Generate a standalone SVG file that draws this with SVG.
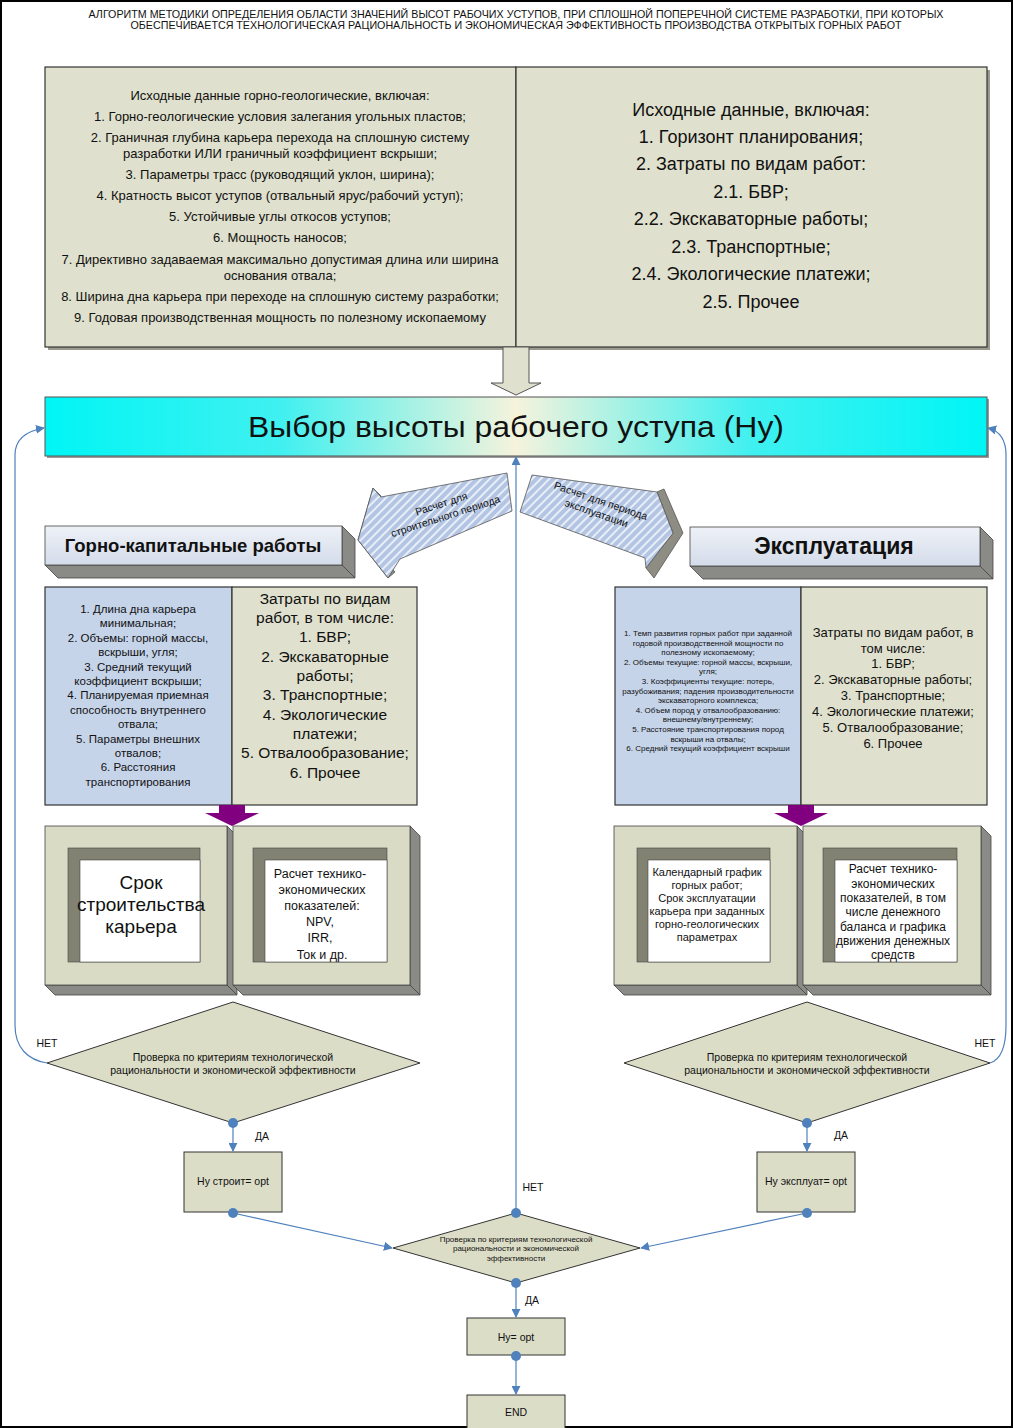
<svg xmlns="http://www.w3.org/2000/svg" width="1013" height="1428" viewBox="0 0 1013 1428">
<style>
text{font-family:"Liberation Sans",Arial,sans-serif;fill:#111;text-anchor:middle}
.box{fill:#dfe0cd;stroke:#333;stroke-width:1.2}
.sm{fill:#dcddc7;stroke:#333;stroke-width:1}
.blue{fill:#c6d4ea;stroke:#333;stroke-width:1.2}
.side{fill:#8a8a86;stroke:#444;stroke-width:0.8}
.frame{fill:#d9dbc5;stroke:#444;stroke-width:0.8}
.band{fill:#828273;stroke:#444;stroke-width:0.6}
.win{fill:#fff;stroke:#444;stroke-width:0.6}
.con{fill:none;stroke:#4f81bd;stroke-width:1.2}
.dot{fill:#4f81bd}
.t10{font-size:10.5px}
</style>
<defs>
<linearGradient id="bar" x1="0" y1="0" x2="1" y2="0">
<stop offset="0" stop-color="#00f5f5"/><stop offset="0.25" stop-color="#40f0f0"/><stop offset="0.5" stop-color="#f6f3dc"/><stop offset="0.75" stop-color="#40f0f0"/><stop offset="1" stop-color="#00f5f5"/>
</linearGradient>
<linearGradient id="hdr" x1="0" y1="0" x2="0" y2="1">
<stop offset="0" stop-color="#eef1f7"/><stop offset="1" stop-color="#d4dcea"/>
</linearGradient>
<pattern id="hatch" patternUnits="userSpaceOnUse" width="6" height="6" patternTransform="rotate(45)">
<rect width="6" height="6" fill="#b3c5e3"/><rect width="2" height="6" fill="#e8eef8"/>
</pattern>
<marker id="ah" viewBox="0 0 10 10" refX="9" refY="5" markerWidth="9" markerHeight="9" markerUnits="userSpaceOnUse" orient="auto">
<path d="M0,0 L10,5 L0,10 z" fill="#4f81bd"/>
</marker>
</defs>
<rect x="1" y="1" width="1011" height="1426" fill="#fff" stroke="#000" stroke-width="2"/>

<g id="title">
<text x="516" y="18" font-size="10.5" textLength="855" lengthAdjust="spacingAndGlyphs">АЛГОРИТМ МЕТОДИКИ ОПРЕДЕЛЕНИЯ ОБЛАСТИ ЗНАЧЕНИЙ ВЫСОТ РАБОЧИХ УСТУПОВ, ПРИ СПЛОШНОЙ ПОПЕРЕЧНОЙ СИСТЕМЕ РАЗРАБОТКИ, ПРИ КОТОРЫХ</text>
<text x="516" y="29" font-size="10.5" textLength="771" lengthAdjust="spacingAndGlyphs">ОБЕСПЕЧИВАЕТСЯ ТЕХНОЛОГИЧЕСКАЯ РАЦИОНАЛЬНОСТЬ И ЭКОНОМИЧЕСКАЯ ЭФФЕКТИВНОСТЬ ПРОИЗВОДСТВА ОТКРЫТЫХ ГОРНЫХ РАБОТ</text>
</g>

<g id="input-geo">
<rect x="48" y="70" width="471" height="280" fill="#9a9a90"/>
<rect class="box" x="45" y="67" width="471" height="280"/>
<g font-size="13">
<text x="280" y="100">Исходные данные горно-геологические, включая:</text>
<text x="280" y="121">1. Горно-геологические условия залегания угольных пластов;</text>
<text x="280" y="142">2. Граничная глубина карьера перехода на сплошную систему</text>
<text x="280" y="158">разработки ИЛИ граничный коэффициент вскрыши;</text>
<text x="280" y="179">3. Параметры трасс (руководящий уклон, ширина);</text>
<text x="280" y="200">4. Кратность высот уступов (отвальный ярус/рабочий уступ);</text>
<text x="280" y="221">5. Устойчивые углы откосов уступов;</text>
<text x="280" y="242">6. Мощность наносов;</text>
<text x="280" y="264">7. Директивно задаваемая максимально допустимая длина или ширина</text>
<text x="280" y="280">основания отвала;</text>
<text x="280" y="301">8. Ширина дна карьера при переходе на сплошную систему разработки;</text>
<text x="280" y="322">9. Годовая производственная мощность по полезному ископаемому</text>
</g>
</g>

<g id="input-econ">
<rect x="519" y="70" width="471" height="280" fill="#9a9a90"/>
<rect class="box" x="516" y="67" width="471" height="280"/>
<g font-size="18">
<text x="751" y="116">Исходные данные, включая:</text>
<text x="751" y="143">1. Горизонт планирования;</text>
<text x="751" y="170">2. Затраты по видам работ:</text>
<text x="751" y="198">2.1. БВР;</text>
<text x="751" y="225">2.2. Экскаваторные работы;</text>
<text x="751" y="253">2.3. Транспортные;</text>
<text x="751" y="280">2.4. Экологические платежи;</text>
<text x="751" y="308">2.5. Прочее</text>
</g>
</g>

<g id="down-arrow">
<polygon points="503,347 529,347 529,383 541,383 516,395 491,383 503,383" fill="#dfe0cd" stroke="#555" stroke-width="1"/>
</g>

<g id="choose-height">
<rect x="47" y="399" width="942" height="59" fill="#9a9a9a"/>
<rect x="45" y="397" width="942" height="59" fill="url(#bar)" stroke="#555" stroke-width="1"/>
<text x="516" y="437" font-size="30" textLength="536" lengthAdjust="spacingAndGlyphs">Выбор высоты рабочего уступа (Ну)</text>
</g>

<g id="arrow-construction">
<polygon points="373,488 358,540 388,578 395,572 367,540 381,496" fill="#8d8d84" stroke="#555" stroke-width="0.8"/>
<polygon points="373,488 381,497 507,473 512,511 400,559 388,578 358,540" fill="url(#hatch)" stroke="#555" stroke-width="0.8"/>
<g transform="translate(444,512) rotate(-18)" font-size="10.5">
<text x="0" y="-5">Расчет для</text>
<text x="0" y="8">строительного периода</text>
</g>
</g>

<g id="arrow-exploitation">
<polygon points="664,489 683,533 654,578 646,568 673,533 657,492" fill="#8d8d84" stroke="#555" stroke-width="0.8"/>
<polygon points="532,475 657,492 673,533 646,568 645,558 520,512" fill="url(#hatch)" stroke="#555" stroke-width="0.8"/>
<g transform="translate(598,509) rotate(19)" font-size="10.5">
<text x="0" y="-5">Расчет для периода</text>
<text x="0" y="8">эксплуатации</text>
</g>
</g>

<g id="hdr-capital">
<polygon class="side" points="342,526 355,539 355,578 342,565"/>
<polygon class="side" points="45,565 342,565 355,578 58,578"/>
<rect x="45" y="526" width="297" height="39" fill="url(#hdr)" stroke="#444" stroke-width="0.8"/>
<text x="193" y="552" font-size="18.5" font-weight="bold">Горно-капитальные работы</text>
</g>

<g id="hdr-exploit">
<polygon class="side" points="980,527 993,540 993,579 980,566"/>
<polygon class="side" points="690,566 980,566 993,579 703,579"/>
<rect x="690" y="527" width="290" height="39" fill="url(#hdr)" stroke="#444" stroke-width="0.8"/>
<text x="834" y="554" font-size="23" font-weight="bold">Эксплуатация</text>
</g>

<g id="capital-params">
<rect class="blue" x="45" y="587" width="187" height="218"/>
<g font-size="11.5">
<text x="138" y="613">1. Длина дна карьера</text>
<text x="138" y="627">минимальная;</text>
<text x="138" y="642">2. Объемы: горной массы,</text>
<text x="138" y="656">вскрыши, угля;</text>
<text x="138" y="671">3. Средний текущий</text>
<text x="138" y="685">коэффициент вскрыши;</text>
<text x="138" y="699">4. Планируемая приемная</text>
<text x="138" y="714">способность внутреннего</text>
<text x="138" y="728">отвала;</text>
<text x="138" y="743">5. Параметры внешних</text>
<text x="138" y="757">отвалов;</text>
<text x="138" y="771">6. Расстояния</text>
<text x="138" y="786">транспортирования</text>
</g>
</g>

<g id="capital-costs">
<rect class="box" x="232" y="587" width="185" height="218"/>
<g font-size="15.5">
<text x="325" y="604">Затраты по видам</text>
<text x="325" y="623">работ, в том числе:</text>
<text x="325" y="642">1. БВР;</text>
<text x="325" y="662">2. Экскаваторные</text>
<text x="325" y="681">работы;</text>
<text x="325" y="700">3. Транспортные;</text>
<text x="325" y="720">4. Экологические</text>
<text x="325" y="739">платежи;</text>
<text x="325" y="758">5. Отвалообразование;</text>
<text x="325" y="778">6. Прочее</text>
</g>
</g>

<g id="exploit-params">
<rect class="blue" x="615" y="587" width="186" height="218"/>
<g font-size="8">
<text x="708" y="636">1. Темп развития горных работ при заданной</text>
<text x="708" y="645.6">годовой производственной мощности по</text>
<text x="708" y="655.2">полезному ископаемому;</text>
<text x="708" y="664.8">2. Объемы текущие: горной массы, вскрыши,</text>
<text x="708" y="674.4">угля;</text>
<text x="708" y="684">3. Коэффициенты текущие: потерь,</text>
<text x="708" y="693.6">разубоживания; падения производительности</text>
<text x="708" y="703.2">экскаваторного комплекса;</text>
<text x="708" y="712.8">4. Объем пород у отвалообразованию:</text>
<text x="708" y="722.4">внешнему/внутреннему;</text>
<text x="708" y="732">5. Расстояние транспортирования пород</text>
<text x="708" y="741.6">вскрыши на отвалы;</text>
<text x="708" y="751.2">6. Средний текущий коэффициент вскрыши</text>
</g>
</g>

<g id="exploit-costs">
<rect class="box" x="801" y="587" width="186" height="218"/>
<g font-size="13">
<text x="893" y="637">Затраты по видам работ, в</text>
<text x="893" y="653">том числе:</text>
<text x="893" y="668">1. БВР;</text>
<text x="893" y="684">2. Экскаваторные работы;</text>
<text x="893" y="700">3. Транспортные;</text>
<text x="893" y="716">4. Экологические платежи;</text>
<text x="893" y="732">5. Отвалообразование;</text>
<text x="893" y="748">6. Прочее</text>
</g>
</g>

<g id="purple-arrows">
<polygon points="219,805 245,805 245,813 259,813 232,826 205,813 219,813" fill="#800080"/>
<polygon points="788,805 814,805 814,813 828,813 801,826 774,813 788,813" fill="#800080"/>
</g>

<g id="check-left">
<polygon class="sm" points="233,1002 420,1063 233,1123 47,1063"/>
<text class="t10" x="233" y="1061">Проверка по критериям технологической</text>
<text class="t10" x="233" y="1074">рациональности и экономической эффективности</text>
</g>

<g id="check-right">
<polygon class="sm" points="807,1002 990,1063 807,1123 624,1063"/>
<text class="t10" x="807" y="1061">Проверка по критериям технологической</text>
<text class="t10" x="807" y="1074">рациональности и экономической эффективности</text>
</g>

<g id="term-build">
<polygon class="side" points="227,826 237,836 237,995 227,985"/>
<polygon class="side" points="45,985 227,985 237,995 55,995"/>
<rect class="frame" x="45" y="826" width="182" height="159"/>
<rect class="band" x="68" y="848" width="132" height="114"/>
<rect class="win" x="80" y="860" width="120" height="102"/>
<g font-size="19">
<text x="141" y="889">Срок</text>
<text x="141" y="911">строительства</text>
<text x="141" y="933">карьера</text>
</g>
</g>

<g id="tep-build">
<polygon class="side" points="410,826 420,836 420,995 410,985"/>
<polygon class="side" points="233,985 410,985 420,995 243,995"/>
<rect class="frame" x="233" y="826" width="177" height="159"/>
<rect class="band" x="253" y="848" width="134" height="114"/>
<rect class="win" x="265" y="860" width="122" height="102"/>
<g font-size="12.5">
<text x="320" y="878">Расчет технико-</text>
<text x="322" y="894">экономических</text>
<text x="322" y="910">показателей:</text>
<text x="320" y="926">NPV,</text>
<text x="320" y="942">IRR,</text>
<text x="322" y="959">Ток и др.</text>
</g>
</g>

<g id="schedule">
<polygon class="side" points="797,826 807,836 807,995 797,985"/>
<polygon class="side" points="614,985 797,985 807,995 624,995"/>
<rect class="frame" x="614" y="826" width="183" height="159"/>
<rect class="band" x="637" y="848" width="133" height="114"/>
<rect class="win" x="648" y="860" width="122" height="102"/>
<g font-size="11">
<text x="707" y="876">Календарный график</text>
<text x="707" y="889">горных работ;</text>
<text x="707" y="902">Срок эксплуатации</text>
<text x="707" y="915">карьера при заданных</text>
<text x="707" y="928">горно-геологических</text>
<text x="707" y="941">параметрах</text>
</g>
</g>

<g id="tep-exploit">
<polygon class="side" points="981,826 991,836 991,995 981,985"/>
<polygon class="side" points="803,985 981,985 991,995 813,995"/>
<rect class="frame" x="803" y="826" width="178" height="159"/>
<rect class="band" x="823" y="848" width="134" height="114"/>
<rect class="win" x="835" y="860" width="122" height="102"/>
<g font-size="12">
<text x="893" y="873">Расчет технико-</text>
<text x="893" y="888">экономических</text>
<text x="893" y="902">показателей, в том</text>
<text x="893" y="916">числе денежного</text>
<text x="893" y="931">баланса и графика</text>
<text x="893" y="945">движения денежных</text>
<text x="893" y="959">средств</text>
</g>
</g>

<g id="opt-build">
<rect class="sm" x="184" y="1152" width="98" height="60"/>
<text class="t10" x="233" y="1185">Ну строит= opt</text>
</g>
<g id="opt-exploit">
<rect class="sm" x="757" y="1152" width="98" height="60"/>
<text class="t10" x="806" y="1185">Ну эксплуат= opt</text>
</g>

<g id="check-final">
<polygon class="sm" points="516,1213 640,1248 516,1283 393,1248"/>
<g font-size="8">
<text x="516" y="1242">Проверка по критериям технологической</text>
<text x="516" y="1251">рациональности и экономической</text>
<text x="516" y="1261">эффективности</text>
</g>
</g>

<g id="opt-final">
<rect class="sm" x="467" y="1318" width="98" height="37"/>
<text class="t10" x="516" y="1341">Ну= opt</text>
</g>
<g id="end">
<rect class="sm" x="467" y="1395" width="98" height="45"/>
<text class="t10" x="516" y="1416">END</text>
</g>

<g id="connectors">
<path class="con" d="M47,1063 C28,1060 15,1048 15,1025 L15,455 C15,440 26,431 44,428" marker-end="url(#ah)"/>
<path class="con" d="M990,1063 C1000,1060 1006,1048 1006,1025 L1006,455 C1006,440 1000,431 988,428" marker-end="url(#ah)"/>
<path class="con" d="M516,1213 L516,457" marker-end="url(#ah)"/>
<path class="con" d="M233,1123 L233,1151" marker-end="url(#ah)"/>
<path class="con" d="M807,1123 L807,1151" marker-end="url(#ah)"/>
<path class="con" d="M233,1213 L392,1248" marker-end="url(#ah)"/>
<path class="con" d="M807,1213 L641,1248" marker-end="url(#ah)"/>
<path class="con" d="M516,1283 L516,1317" marker-end="url(#ah)"/>
<path class="con" d="M516,1356 L516,1394" marker-end="url(#ah)"/>
<circle class="dot" cx="233" cy="1123" r="5"/>
<circle class="dot" cx="807" cy="1123" r="5"/>
<circle class="dot" cx="233" cy="1213" r="5"/>
<circle class="dot" cx="807" cy="1213" r="5"/>
<circle class="dot" cx="516" cy="1213" r="5"/>
<circle class="dot" cx="516" cy="1283" r="5"/>
<circle class="dot" cx="516" cy="1356" r="5"/>
<text class="t10" x="47" y="1047">НЕТ</text>
<text class="t10" x="985" y="1047">НЕТ</text>
<text class="t10" x="533" y="1191">НЕТ</text>
<text class="t10" x="262" y="1140">ДА</text>
<text class="t10" x="841" y="1139">ДА</text>
<text class="t10" x="532" y="1304">ДА</text>
</g>
</svg>
